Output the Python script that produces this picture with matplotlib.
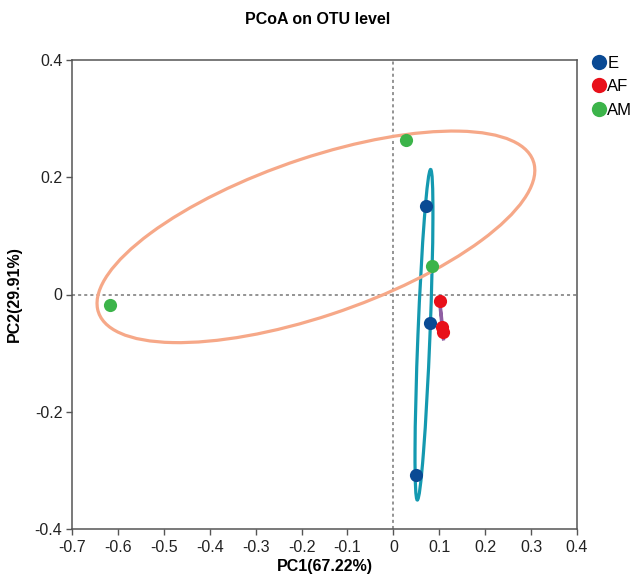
import numpy as np
import matplotlib
matplotlib.use("Agg")
import matplotlib.pyplot as plt
from matplotlib.patches import Ellipse
from matplotlib.lines import Line2D

plt.rcParams['font.family'] = ['Liberation Sans', 'DejaVu Sans']

groups = ["E", "AF", "AM"]
pc1_E = [0.071, 0.080, 0.049]
pc2_E = [0.151, -0.049, -0.308]
pc1_AF = [0.101, 0.106, 0.108]
pc2_AF = [-0.011, -0.055, -0.064]
pc1_AM = [0.027, 0.084, -0.617]
pc2_AM = [0.264, 0.049, -0.018]

point_colors = {"E": "#0a4a94", "AF": "#e8101a", "AM": "#3cb44a"}
ellipse_colors = {"E": "#1499b0", "AF": "#8f5fa3", "AM": "#f6a888"}

xticks = [-0.7, -0.6, -0.5, -0.4, -0.3, -0.2, -0.1, 0, 0.1, 0.2, 0.3, 0.4]
xticklabels = ["-0.7", "-0.6", "-0.5", "-0.4", "-0.3", "-0.2", "-0.1", "0", "0.1", "0.2", "0.3", "0.4"]
yticks = [-0.4, -0.2, 0, 0.2, 0.4]
yticklabels = ["-0.4", "-0.2", "0", "0.2", "0.4"]

data = {"E": (pc1_E, pc2_E), "AF": (pc1_AF, pc2_AF), "AM": (pc1_AM, pc2_AM)}

fig = plt.figure(figsize=(6.33, 5.77), dpi=100)
ax = fig.add_axes([72/633, 1-529/577, 505/633, 469/577])

ax.axhline(0, color="#777777", lw=1.1, ls=(0, (2, 2)), zorder=1)
ax.axvline(0, color="#777777", lw=1.1, ls=(0, (2, 2)), zorder=1)

k = 1.5
for g in groups:
    x = np.array(data[g][0]); y = np.array(data[g][1])
    cov = np.cov(x, y, bias=True)
    vals, vecs = np.linalg.eigh(cov)
    order = vals.argsort()[::-1]
    vals, vecs = vals[order], vecs[:, order]
    ang = np.degrees(np.arctan2(vecs[1, 0], vecs[0, 0]))
    e = Ellipse((x.mean(), y.mean()), 2*k*np.sqrt(vals[0]), 2*k*np.sqrt(vals[1]),
                angle=ang, fill=False, ec=ellipse_colors[g], lw=2.3, zorder=2)
    ax.add_patch(e)

for g in groups:
    ax.scatter(data[g][0], data[g][1], s=90, color=point_colors[g], zorder=3, linewidths=0)

ax.set_xlim(-0.7, 0.4)
ax.set_ylim(-0.4, 0.4)
ax.set_xticks(xticks)
ax.set_xticklabels(xticklabels)
ax.set_yticks(yticks)
ax.set_yticklabels(yticklabels)
ax.tick_params(direction="out", length=4, width=1, color="#555555", labelsize=11.5, labelcolor="#222222")
ax.tick_params(axis="x", pad=4)
ax.tick_params(axis="y", pad=3)
for s in ax.spines.values():
    s.set_color("#555555")
    s.set_linewidth(1.1)

ax.set_xlabel("PC1(67.22%)", fontsize=11.5, fontweight="bold", labelpad=3)
ax.set_ylabel("PC2(29.91%)", fontsize=11.5, fontweight="bold", labelpad=9)
fig.text(0.502, 1-19/577, "PCoA on OTU level", ha="center", va="center", fontsize=11.5, fontweight="bold")

handles = [Line2D([], [], marker="o", ls="", ms=11, color=point_colors[g], mew=0) for g in groups]
fig.legend(handles, groups, loc="upper left", bbox_to_anchor=(589/633, 1-56/577),
           frameon=False, fontsize=12, handletextpad=-0.1, labelspacing=0.5,
           borderaxespad=0, borderpad=0, handlelength=1.2)

fig.savefig("out.png", dpi=100)
